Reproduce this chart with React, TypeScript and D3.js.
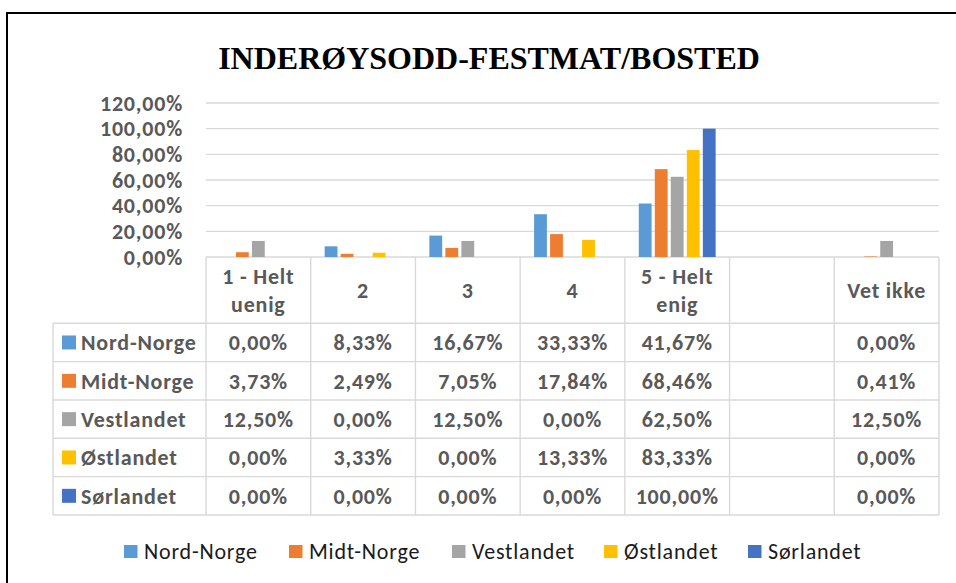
import React from "react";
import * as d3 from "d3";

const title = "INDERØYSODD-FESTMAT/BOSTED";
const categories = ["1 - Helt\nuenig", "2", "3", "4", "5 - Helt\nenig", "", "Vet ikke"];
const seriesNames = ["Nord-Norge", "Midt-Norge", "Vestlandet", "Østlandet", "Sørlandet"];
const seriesColors = ["#5B9BD5", "#ED7D31", "#A5A5A5", "#FFC000", "#4472C4"];
const nordNorge = [0, 8.33, 16.67, 33.33, 41.67, null, 0];
const midtNorge = [3.73, 2.49, 7.05, 17.84, 68.46, null, 0.41];
const vestlandet = [12.5, 0, 12.5, 0, 62.5, null, 12.5];
const ostlandet = [0, 3.33, 0, 13.33, 83.33, null, 0];
const sorlandet = [0, 0, 0, 0, 100, null, 0];
const yTicks = [0, 20, 40, 60, 80, 100, 120];

const seriesValues: (number | null)[][] = [nordNorge, midtNorge, vestlandet, ostlandet, sorlandet];

const W = 956;
const H = 583;
const FONT = "Carlito, Calibri, Lato, 'Open Sans', sans-serif";
const GRAY = "#595959";
const LINE = "#D9D9D9";
const FS = 22;
const LS = 0.8;

const fmt = (v: number) => v.toFixed(2).replace(".", ",") + "%";

export default function App() {
  const plotLeft = 206;
  const plotRight = 939;
  const x = d3.scaleBand<number>().domain(categories.map((_, i) => i)).range([plotLeft, plotRight]).padding(0);
  const xs = d3
    .scaleBand<number>()
    .domain(seriesNames.map((_, i) => i))
    .range([0, x.bandwidth()])
    .paddingInner(0.2)
    .paddingOuter(0.87);
  const y = d3.scaleLinear().domain([0, 120]).range([257, 103]);

  const headerTop = y(0);
  const headerBottom = 323.3;
  const rowH = 38.34;
  const tableLeft = 53;
  const rowY = (r: number) => headerBottom + r * rowH;

  const legendX = [124, 289, 452, 604, 748];

  return (
    <svg
      width={W}
      height={H}
      style={{ position: "absolute", left: 0, top: 0, background: "#fff" }}
      fontFamily={FONT}
    >
      <rect x={0} y={0} width={W} height={H} fill="#fff" />
      <rect x={7} y={13} width={970} height={620} fill="none" stroke="#000" strokeWidth={2} />
      <text
        x={489}
        y={69}
        textAnchor="middle"
        fontFamily="'Liberation Serif', 'Times New Roman', serif"
        fontWeight="bold"
        fontSize={32}
        fill="#000"
      >
        {title}
      </text>

      {/* gridlines + y labels */}
      {yTicks.map((t) => (
        <g key={t}>
          <line x1={plotLeft} x2={plotRight} y1={y(t)} y2={y(t)} stroke={LINE} strokeWidth={1.4} />
          <text x={183} y={y(t) + 7.5} textAnchor="end" fontSize={FS} letterSpacing={LS} fontWeight="bold" fill={GRAY}>
            {fmt(t)}
          </text>
        </g>
      ))}

      {/* bars */}
      {seriesValues.map((vals, s) =>
        vals.map((v, c) =>
          v === null || v <= 0 ? null : (
            <rect
              key={`${s}-${c}`}
              x={(x(c) ?? 0) + (xs(s) ?? 0)}
              y={y(v)}
              width={xs.bandwidth()}
              height={y(0) - y(v)}
              fill={seriesColors[s]}
            />
          )
        )
      )}

      {/* table lines */}
      {categories.map((_, c) => (
        <line
          key={`hv${c}`}
          x1={x(c)}
          x2={x(c)}
          y1={headerTop}
          y2={rowY(5)}
          stroke={LINE}
          strokeWidth={1.4}
        />
      ))}
      <line x1={plotRight} x2={plotRight} y1={headerTop} y2={rowY(5)} stroke={LINE} strokeWidth={1.4} />
      <line x1={tableLeft} x2={tableLeft} y1={headerBottom} y2={rowY(5)} stroke={LINE} strokeWidth={1.4} />
      {seriesNames.map((_, r) => (
        <line key={`hr${r}`} x1={tableLeft} x2={plotRight} y1={rowY(r)} y2={rowY(r)} stroke={LINE} strokeWidth={1.4} />
      ))}
      <line x1={tableLeft} x2={plotRight} y1={rowY(5)} y2={rowY(5)} stroke={LINE} strokeWidth={1.4} />

      {/* header labels */}
      {categories.map((cat, c) => {
        const lines = cat.split("\n");
        const cx = (x(c) ?? 0) + x.bandwidth() / 2;
        const mid = (headerTop + headerBottom) / 2;
        return lines.map((ln, i) => (
          <text
            key={`h${c}-${i}`}
            x={cx}
            y={mid + 7.5 + (i - (lines.length - 1) / 2) * 28}
            textAnchor="middle"
            fontSize={FS}
            letterSpacing={LS}
            fontWeight="bold"
            fill={GRAY}
          >
            {ln}
          </text>
        ));
      })}

      {/* rows */}
      {seriesNames.map((name, r) => {
        const cy = rowY(r) + rowH / 2;
        return (
          <g key={`row${r}`}>
            <rect x={62} y={cy - 7} width={14} height={14} fill={seriesColors[r]} />
            <text x={81} y={cy + 8} fontSize={FS} letterSpacing={LS} fontWeight="bold" fill={GRAY}>
              {name}
            </text>
            {seriesValues[r].map((v, c) =>
              v === null ? null : (
                <text
                  key={`v${r}-${c}`}
                  x={(x(c) ?? 0) + x.bandwidth() / 2}
                  y={cy + 8}
                  textAnchor="middle"
                  fontSize={FS}
                  letterSpacing={LS}
                  fontWeight="bold"
                  fill={GRAY}
                >
                  {fmt(v)}
                </text>
              )
            )}
          </g>
        );
      })}

      {/* legend */}
      {seriesNames.map((name, i) => (
        <g key={`lg${i}`}>
          <rect x={legendX[i]} y={545} width={13.5} height={13} fill={seriesColors[i]} />
          <text x={legendX[i] + 20} y={558.5} fontSize={FS} letterSpacing={LS} fill="#1a1a1a">
            {name}
          </text>
        </g>
      ))}
    </svg>
  );
}
